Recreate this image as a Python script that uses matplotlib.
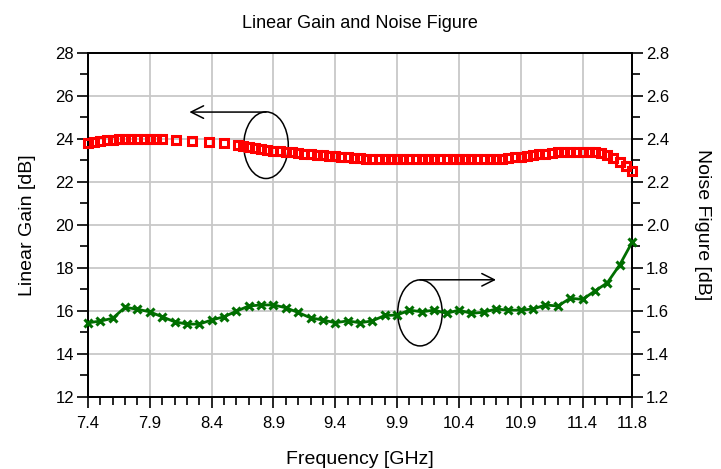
import matplotlib
matplotlib.use("Agg")
import matplotlib.pyplot as plt
from matplotlib.patches import Ellipse
from matplotlib.ticker import MultipleLocator, FixedLocator

plt.rcParams['font.family'] = ['Liberation Sans', 'DejaVu Sans']

# ---- data ----
gain_freq = [7.40, 7.45, 7.50, 7.55, 7.60, 7.65, 7.70, 7.75, 7.80, 7.85, 7.90, 7.95, 8.00,
             8.11, 8.24, 8.38, 8.50, 8.61,
             8.65, 8.70, 8.75, 8.80, 8.85, 8.90, 8.95, 9.00, 9.05, 9.10, 9.15, 9.20,
             9.25, 9.30, 9.35, 9.40, 9.45, 9.50, 9.55, 9.60, 9.65, 9.70, 9.75, 9.80,
             9.85, 9.90, 9.95, 10.00, 10.05, 10.10, 10.15, 10.20, 10.25, 10.30, 10.35,
             10.40, 10.45, 10.50, 10.55, 10.60, 10.65, 10.70, 10.75, 10.80, 10.85, 10.90,
             10.95, 11.00, 11.05, 11.10, 11.15, 11.20, 11.25, 11.30, 11.35, 11.40, 11.45,
             11.50, 11.55, 11.60, 11.65, 11.70, 11.75, 11.80]
gain_db = [23.79, 23.85, 23.90, 23.93, 23.96, 23.98, 23.99, 24.00, 24.00, 24.00, 24.00, 24.00, 23.99,
           23.95, 23.91, 23.86, 23.79, 23.71,
           23.66, 23.60, 23.56, 23.52, 23.48, 23.45, 23.42, 23.39, 23.36, 23.33, 23.30, 23.28,
           23.26, 23.24, 23.21, 23.19, 23.17, 23.15, 23.12, 23.10, 23.08, 23.07, 23.06, 23.05,
           23.05, 23.04, 23.04, 23.04, 23.04, 23.04, 23.04, 23.04, 23.04, 23.04, 23.04,
           23.04, 23.04, 23.04, 23.04, 23.04, 23.05, 23.05, 23.07, 23.11, 23.13, 23.16,
           23.19, 23.23, 23.27, 23.31, 23.35, 23.38, 23.40, 23.40, 23.40, 23.40, 23.39,
           23.37, 23.35, 23.25, 23.10, 22.92, 22.75, 22.52]

nf_freq = [7.4, 7.5, 7.6, 7.7, 7.8, 7.9, 8.0, 8.1, 8.2, 8.3, 8.4, 8.5, 8.6, 8.7, 8.8, 8.9,
           9.0, 9.1, 9.2, 9.3, 9.4, 9.5, 9.6, 9.7, 9.8, 9.9, 10.0, 10.1, 10.2, 10.3, 10.4,
           10.5, 10.6, 10.7, 10.8, 10.9, 11.0, 11.1, 11.2, 11.3, 11.4, 11.5, 11.6, 11.7, 11.8]
nf_db = [1.544, 1.552, 1.565, 1.616, 1.607, 1.595, 1.572, 1.549, 1.538, 1.538, 1.557, 1.572,
         1.598, 1.622, 1.627, 1.627, 1.614, 1.592, 1.567, 1.557, 1.544, 1.553, 1.544, 1.553,
         1.578, 1.580, 1.603, 1.595, 1.603, 1.588, 1.603, 1.588, 1.593, 1.608, 1.603, 1.603,
         1.608, 1.627, 1.622, 1.658, 1.653, 1.692, 1.730, 1.813, 1.918]

x_ticks = [7.4, 7.9, 8.4, 8.9, 9.4, 9.9, 10.4, 10.9, 11.4, 11.8]
x_tick_labels = ["7.4", "7.9", "8.4", "8.9", "9.4", "9.9", "10.4", "10.9", "11.4", "11.8"]
gain_ticks = [12, 14, 16, 18, 20, 22, 24, 26, 28]
nf_ticks = [1.2, 1.4, 1.6, 1.8, 2.0, 2.2, 2.4, 2.6, 2.8]

title = "Linear Gain and Noise Figure"
xlabel = "Frequency [GHz]"
ylabel_left = "Linear Gain [dB]"
ylabel_right = "Noise Figure [dB]"

# ---- figure ----
fig = plt.figure(figsize=(7.21, 4.69), dpi=100)
ax = fig.add_axes([0.122, 0.154, 0.7546, 0.7336])
ax2 = ax.twinx()

ax.set_xlim(7.4, 11.8)
ax.set_ylim(12, 28)
ax2.set_ylim(1.2, 2.8)

grid_c = '#c8c8c8'
for xv in x_ticks[1:-1]:
    ax.axvline(xv, color=grid_c, lw=1.3, zorder=0)
for yv in gain_ticks[1:-1]:
    ax.axhline(yv, color=grid_c, lw=1.3, zorder=0)

ax2.plot(nf_freq, nf_db, color='#006e00', lw=2.0, marker='x', ms=6, mew=2.2,
         zorder=3, clip_on=False)
ax2.plot(gain_freq, [1.2 + (g - 12) / 10 for g in gain_db], ls='none', marker='s',
         ms=5.8, mfc='none', mec='#ff0000', mew=2.2, zorder=4, clip_on=False)

ax.xaxis.set_major_locator(FixedLocator(x_ticks))
ax.set_xticklabels(x_tick_labels)
ax.xaxis.set_minor_locator(MultipleLocator(0.1))
ax.yaxis.set_major_locator(FixedLocator(gain_ticks))
ax.yaxis.set_minor_locator(MultipleLocator(1))
ax2.yaxis.set_major_locator(FixedLocator(nf_ticks))
ax2.set_yticklabels([f"{v:.1f}" for v in nf_ticks])
ax2.yaxis.set_minor_locator(MultipleLocator(0.1))

fs_tick = 12
ax.tick_params(axis='both', which='major', direction='out', length=8, width=1.2,
               labelsize=fs_tick, color='black', pad=2)
ax.tick_params(axis='x', which='major', pad=6)
ax.tick_params(axis='both', which='minor', direction='out', length=6, width=1.2)
ax2.tick_params(axis='y', which='major', direction='out', length=8, width=1.2,
                labelsize=fs_tick, pad=2)
ax2.tick_params(axis='y', which='minor', direction='out', length=6, width=1.2)

for a in (ax, ax2):
    for s in a.spines.values():
        s.set_linewidth(1.3)

ax.set_xlabel(xlabel, fontsize=14, labelpad=14)
ax.set_ylabel(ylabel_left, fontsize=14, labelpad=14)
ax2.set_ylabel(ylabel_right, fontsize=14, rotation=270, labelpad=30)
ax.set_title(title, fontsize=13, pad=18)

# annotation ellipses and arrows
ax.add_patch(Ellipse((8.84, 23.7), 0.36, 3.1, fill=False, ec='black', lw=1.1, zorder=5))
ax.annotate("", xy=(8.22, 25.24), xytext=(8.84, 25.24),
            arrowprops=dict(arrowstyle='->,head_length=0.9,head_width=0.45', color='black', lw=1.1,
                            shrinkA=0, shrinkB=0), zorder=5)
ax.add_patch(Ellipse((10.085, 15.9), 0.36, 3.07, fill=False, ec='black', lw=1.1, zorder=5))
ax.annotate("", xy=(10.7, 17.44), xytext=(10.085, 17.44),
            arrowprops=dict(arrowstyle='->,head_length=0.9,head_width=0.45', color='black', lw=1.1,
                            shrinkA=0, shrinkB=0), zorder=5)

fig.savefig("out.png", dpi=100)
